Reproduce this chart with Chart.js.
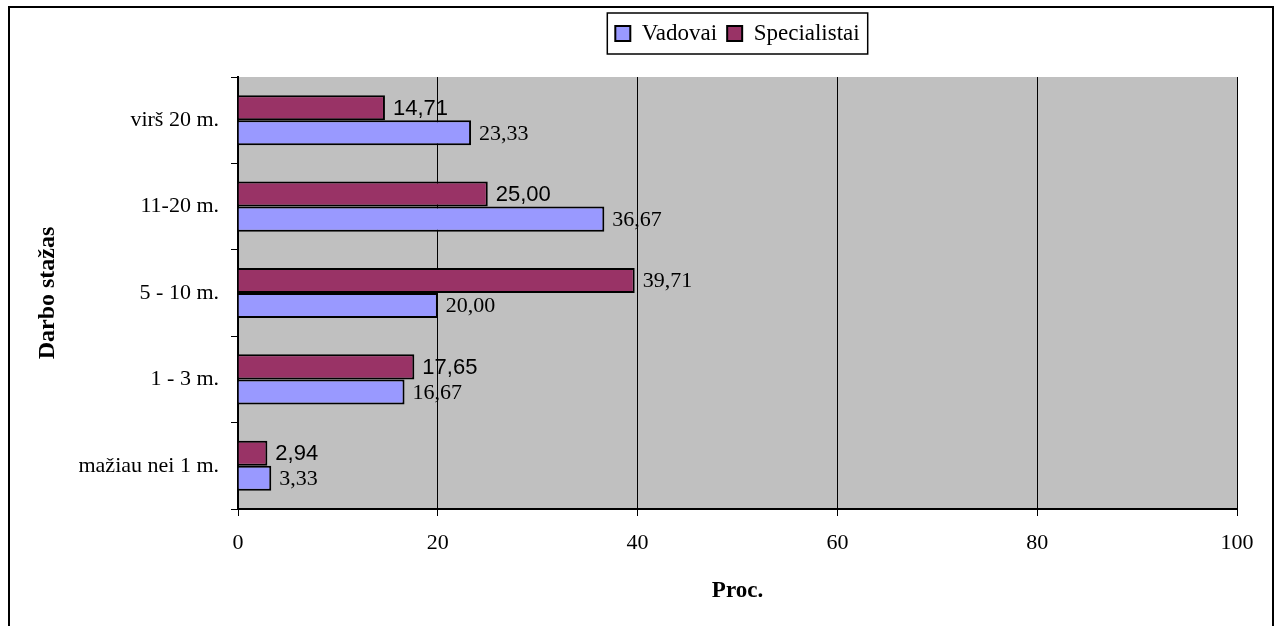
<!DOCTYPE html>
<html>
<head>
<meta charset="utf-8">
<script src="https://cdn.jsdelivr.net/npm/chart.js@4"></script>
<style>
  html, body { margin: 0; padding: 0; background: #fff; }
  #wrap { width: 1280px; height: 626px; }
</style>
</head>
<body>
<div id="wrap"><canvas id="stazasChart" width="1280" height="626"></canvas></div>
<script>
// work experience groups, top to bottom
const categories = ['virš 20 m.', '11-20 m.', '5 - 10 m.', '1 - 3 m.', 'mažiau nei 1 m.'];
const vadovai = [23.33, 36.67, 20.00, 16.67, 3.33];
const specialistai = [14.71, 25.00, 39.71, 17.65, 2.94];
const xTicks = [0, 20, 40, 60, 80, 100];

const serif = "'Liberation Serif', 'Times New Roman', serif";
const sans = "'Liberation Sans', Arial, sans-serif";

const fmt = v => v.toFixed(2).replace('.', ',');

// white page, outer frame and grey plot area
const frame = {
    id: 'frame',
    beforeDraw(chart) {
        const { ctx, chartArea: a } = chart;
        ctx.save();
        ctx.fillStyle = '#fff';
        ctx.fillRect(0, 0, chart.width, chart.height);
        ctx.fillStyle = '#C0C0C0';
        ctx.fillRect(a.left, a.top, a.right - a.left, a.bottom - a.top);
        ctx.strokeStyle = '#000';
        ctx.lineWidth = 2;
        ctx.strokeRect(9, 7, 1264, 700);
        ctx.restore();
    }
};

// keep the legend band a fixed height so the plot starts at the same place
const legendBand = {
    id: 'legendBand',
    beforeInit(chart) {
        const fit = chart.legend.fit;
        chart.legend.fit = function () {
            fit.call(this);
            this.height = 65;
        };
    },
    afterDraw(chart) {
        const boxes = chart.legend.legendHitBoxes;
        if (!boxes || !boxes.length) return;
        const first = boxes[0];
        const last = boxes[boxes.length - 1];
        const { ctx } = chart;
        ctx.save();
        ctx.strokeStyle = '#000';
        ctx.lineWidth = 1.5;
        ctx.strokeRect(first.left - 8, first.top - 9,
            last.left + last.width + 8 - (first.left - 8), first.height + 18);
        ctx.restore();
    }
};

// value labels right of each bar
const valueLabels = {
    id: 'valueLabels',
    afterDatasetsDraw(chart) {
        const { ctx } = chart;
        ctx.save();
        ctx.fillStyle = '#000';
        ctx.textBaseline = 'middle';
        ctx.textAlign = 'left';
        chart.data.datasets.forEach((ds, i) => {
            const meta = chart.getDatasetMeta(i);
            meta.data.forEach((bar, j) => {
                const family = ds.labelFonts[j] === 'sans' ? sans : serif;
                ctx.font = '22px ' + family;
                ctx.fillText(fmt(ds.data[j]), bar.x + 8, bar.y + 1);
            });
        });
        ctx.restore();
    }
};

new Chart(document.getElementById('stazasChart').getContext('2d'), {
    type: 'bar',
    data: {
        labels: categories,
        datasets: [{
            label: 'Specialistai',
            data: specialistai,
            backgroundColor: '#993366',
            borderColor: '#000',
            borderWidth: 2,
            labelFonts: ['sans', 'sans', 'serif', 'sans', 'sans']
        }, {
            label: 'Vadovai',
            data: vadovai,
            backgroundColor: '#9999FF',
            borderColor: '#000',
            borderWidth: 2,
            labelFonts: ['serif', 'serif', 'serif', 'serif', 'serif']
        }]
    },
    options: {
        indexAxis: 'y',
        responsive: false,
        animation: false,
        devicePixelRatio: 1,
        categoryPercentage: 0.58,
        barPercentage: 1,
        layout: { padding: { top: 12, right: 43, bottom: 0, left: 0 } },
        plugins: {
            tooltip: { enabled: false },
            legend: {
                position: 'top',
                fullSize: false,
                reverse: true,
                labels: {
                    color: '#000',
                    boxWidth: 15,
                    boxHeight: 15,
                    padding: 10,
                    font: { family: serif, size: 23 }
                }
            }
        },
        scales: {
            x: {
                min: 0,
                max: 100,
                afterBuildTicks: scale => {
                    scale.ticks = xTicks.map(v => ({ value: v }));
                },
                ticks: { color: '#000', font: { family: serif, size: 22 }, padding: 14 },
                grid: { color: '#000', lineWidth: 1, tickLength: 7 },
                border: { display: true, color: '#000', width: 2 },
                title: {
                    display: true,
                    text: 'Proc.',
                    color: '#000',
                    font: { family: serif, size: 23, weight: 'bold' },
                    padding: { top: 0, bottom: 21 }
                },
                afterFit: scale => { scale.height = 117; }
            },
            y: {
                ticks: { color: '#000', font: { family: serif, size: 22 }, padding: 12 },
                grid: { drawOnChartArea: false, color: '#000', tickLength: 7 },
                border: { display: true, color: '#000', width: 2 },
                title: {
                    display: true,
                    text: 'Darbo stažas',
                    color: '#000',
                    font: { family: serif, size: 24, weight: 'bold' },
                    padding: { top: 33, bottom: 0 }
                },
                afterFit: scale => { scale.width = 238; }
            }
        }
    },
    plugins: [frame, legendBand, valueLabels]
});
</script>
</body>
</html>
